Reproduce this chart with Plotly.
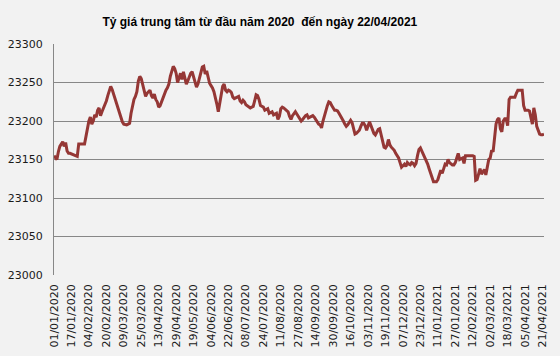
import plotly.graph_objects as go

title_text = "Tỷ giá trung tâm từ đầu năm 2020  đến ngày 22/04/2021"

tick_labels = [
    "01/01/2020", "17/01/2020", "04/02/2020", "20/02/2020", "09/03/2020",
    "25/03/2020", "13/04/2020", "29/04/2020", "19/05/2020", "04/06/2020",
    "22/06/2020", "08/07/2020", "24/07/2020", "11/08/2020", "27/08/2020",
    "14/09/2020", "30/09/2020", "16/10/2020", "03/11/2020", "19/11/2020",
    "07/12/2020", "23/12/2020", "11/01/2021", "27/01/2021", "12/02/2021",
    "02/03/2021", "18/03/2021", "05/04/2021", "21/04/2021",
]
tick_step = 12  # one label every 12 trading days

rate = [
    23155, 23153, 23150, 23160, 23167, 23170, 23173, 23167, 23172, 23161, 23158, 23158,
    23157, 23156, 23155, 23154, 23154, 23170, 23170, 23170, 23170, 23170, 23180, 23192,
    23200, 23205, 23196, 23200, 23208, 23205, 23214, 23217, 23207, 23212, 23217, 23220,
    23226, 23233, 23240, 23245, 23241, 23235, 23228, 23222, 23216, 23209, 23204, 23199,
    23196, 23195, 23195, 23196, 23197, 23210, 23222, 23228, 23232, 23238, 23252, 23258,
    23255, 23246, 23238, 23232, 23236, 23238, 23240, 23233, 23230, 23235, 23228, 23225,
    23218, 23220, 23225, 23232, 23237, 23240, 23243, 23248, 23258, 23266, 23271, 23268,
    23262, 23250, 23255, 23262, 23254, 23264, 23256, 23248, 23252, 23258, 23262, 23264,
    23258, 23250, 23244, 23248, 23255, 23265, 23270, 23271, 23261, 23265, 23256, 23249,
    23246, 23243, 23238, 23231, 23222, 23212, 23225, 23236, 23245, 23248, 23240, 23238,
    23240, 23239, 23237, 23231, 23229, 23230, 23231, 23232, 23226, 23224, 23227, 23225,
    23221, 23220, 23219, 23217, 23218, 23219, 23226, 23234, 23233, 23228, 23220, 23219,
    23218, 23214, 23215, 23216, 23210, 23211, 23212, 23208, 23209, 23210, 23202, 23206,
    23216, 23218, 23217, 23215, 23213, 23212, 23206, 23202, 23207, 23210, 23212, 23209,
    23206, 23203, 23200, 23202, 23205, 23207, 23208, 23204, 23205, 23206, 23207, 23205,
    23202, 23198, 23196, 23195, 23191, 23200, 23208, 23214, 23220, 23225, 23224, 23220,
    23217, 23214, 23214, 23213, 23210, 23207, 23204, 23200, 23196, 23193, 23195, 23198,
    23201, 23198, 23192, 23183, 23184, 23186, 23188, 23193, 23197, 23197, 23194, 23188,
    23193, 23199, 23194, 23188, 23184, 23182, 23186, 23189, 23190, 23183, 23174, 23166,
    23165, 23168, 23176, 23169, 23166, 23164, 23162, 23158, 23155, 23152, 23146, 23140,
    23142, 23144, 23141, 23146, 23144, 23143, 23146, 23145, 23142, 23145, 23155, 23163,
    23165, 23161, 23156, 23152, 23150, 23144, 23138, 23132, 23125, 23121, 23121, 23121,
    23124, 23130, 23136, 23132, 23137, 23144, 23143, 23150, 23146, 23144, 23143, 23143,
    23146, 23152, 23158, 23150, 23151, 23152, 23145, 23155, 23155, 23155, 23155, 23155,
    23155, 23154, 23123, 23124, 23130, 23138, 23131, 23134, 23137, 23130, 23140, 23150,
    23152, 23162, 23160, 23180, 23196, 23202, 23204, 23190, 23186, 23200, 23203, 23203,
    23194, 23228, 23231, 23231, 23231, 23231, 23236, 23240, 23240, 23240, 23240, 23220,
    23214, 23214, 23214, 23213, 23205, 23196, 23217, 23208, 23193, 23188, 23183, 23182,
    23182, 23183,
]

y_min, y_max, y_step = 23000, 23300, 50

x_idx = list(range(len(rate)))
tick_pos = [i * tick_step for i in range(len(tick_labels))]

fig = go.Figure()
fig.add_trace(go.Scatter(
    x=x_idx, y=rate, mode="lines",
    line=dict(color="#953735", width=3),
    hoverinfo="y", showlegend=False,
))

fig.update_layout(
    width=560, height=356,
    paper_bgcolor="#f2f2f2", plot_bgcolor="#f2f2f2",
    margin=dict(l=54, r=16, t=44, b=81, autoexpand=False),
    title=dict(
        text=title_text, x=0.464, xanchor="center", y=0.939, yanchor="middle",
        font=dict(family="Liberation Sans", size=12, color="#000000", weight="bold"),
    ),
    xaxis=dict(
        range=[0, len(rate) - 1], tickmode="array", tickvals=tick_pos, ticktext=tick_labels,
        tickangle=-90, showgrid=False, zeroline=False, showline=False, automargin=False,
        ticks="", tickfont=dict(family="DejaVu Sans", size=11, color="#1a1a1a"),
        ticklabelstandoff=6,
    ),
    yaxis=dict(
        range=[y_min, y_max], dtick=y_step, tick0=y_min, tickformat="d",
        showgrid=True, gridcolor="#878787", gridwidth=1, automargin=False,
        zeroline=False, showline=True, linecolor="#878787", linewidth=1,
        ticks="", tickfont=dict(family="DejaVu Sans", size=11, color="#1a1a1a"),
        ticklabelstandoff=8,
    ),
)

fig.write_html(
    "out.html",
    config={"displayModeBar": False},
    post_script="document.body.style.margin='0';document.body.style.background='#f2f2f2';",
)
